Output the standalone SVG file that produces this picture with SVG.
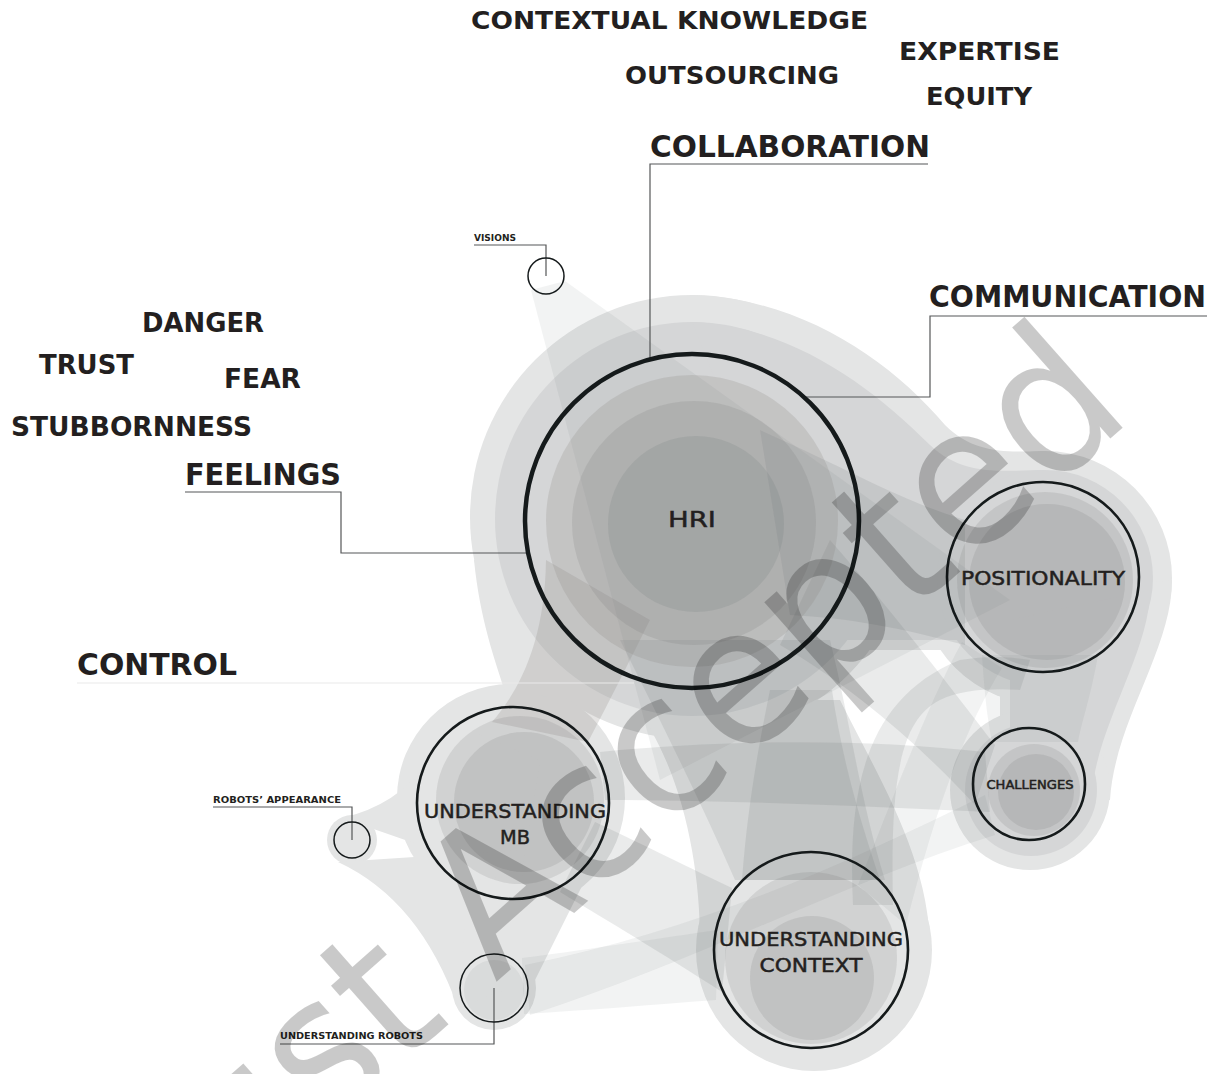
<svg xmlns="http://www.w3.org/2000/svg" width="1221" height="1074" viewBox="0 0 1221 1074">
<style>
.w{font-family:"DejaVu Sans","Liberation Sans",sans-serif;font-weight:bold;fill:#231f20}
.n{font-family:"DejaVu Sans","Liberation Sans",sans-serif;font-weight:normal;fill:#231f20;stroke:#231f20;stroke-width:0.5;text-anchor:middle}
.s{font-family:"DejaVu Sans","Liberation Sans",sans-serif;font-weight:bold;fill:#231f20;font-size:8px}
.e1{fill:#e4e5e5}
.e2{fill:#d5d6d7}
.b{fill:#5f6264;fill-opacity:0.13}
.bl{fill:#5f6264;fill-opacity:0.08}
.wr{fill:#8a8580;fill-opacity:0.22}
.d{fill:#6f7072;fill-opacity:0.16}
.node{fill:none;stroke:#151a1b;stroke-width:2.6}
.lead{fill:none;stroke:#555758;stroke-width:1.2}
.wm{font-family:"DejaVu Sans","Liberation Sans",sans-serif;fill:#000;fill-opacity:0.21}
</style>
<rect width="1221" height="1074" fill="#fff"/>

<g id="blobs">
  <circle class="e1" cx="692" cy="517" r="222"/>
  <path class="e1" d="M692,295 C800,298 890,360 945,425 C975,455 1010,452 1045,451 L1045,650 L800,650 Z"/>
  <circle class="e1" cx="1045" cy="578" r="127"/>
  <path class="e1" d="M1172,580 C1172,650 1115,720 1110,800 L1000,800 L1000,600 Z"/>
  <circle class="e1" cx="1030" cy="790" r="80"/>
  <circle class="e1" cx="511" cy="798" r="114"/>
  <circle class="e1" cx="352" cy="840" r="25"/>
  <circle class="e1" cx="494" cy="988" r="42"/>
  <path class="e1" d="M474,560 C480,620 495,660 505,692 L580,700 L580,560 Z"/>
  <path class="e1" d="M342,818 Q420,800 448,722 L540,760 L520,880 Z"/>
  <path class="e1" d="M338,862 Q420,900 458,1008 L530,980 L520,850 Z"/>
  <path class="e1" d="M458,990 L470,880 L590,870 L530,990 Z"/>
  <ellipse class="e1" cx="814" cy="950" rx="118" ry="121"/>
  <path class="e1" d="M700,940 C700,860 680,760 630,700 L840,700 C880,780 930,860 930,950 Z"/>
  <circle class="e2" cx="692" cy="519" r="197"/>
  <path class="e2" d="M692,322 C790,326 870,385 930,445 C965,478 1005,470 1045,470 L1045,640 L820,640 Z"/>
  <circle class="e2" cx="1045" cy="578" r="108"/>
  <path class="e2" d="M1150,590 C1150,650 1100,720 1092,790 L1010,790 L1010,620 Z"/>
  <circle class="e2" cx="1031" cy="790" r="66"/>
  <path class="bl" d="M531,290 L565,281 L1010,600 L660,780 Z"/>
  <path class="b" d="M760,430 C850,470 900,500 965,520 L965,645 C900,628 850,618 790,615 Z"/>
  <path class="b" d="M830,540 C900,620 960,700 995,745 L975,805 C920,745 850,685 780,645 Z"/>
  <path class="b" d="M600,752 C720,740 860,738 985,752 L990,812 C860,806 720,800 605,800 Z"/>
  <path class="b" d="M595,822 C650,848 690,868 732,888 L722,992 C660,952 610,922 560,892 Z"/>
  <path class="bl" d="M522,958 C600,948 660,938 718,930 L716,1000 C650,1005 590,1010 524,1014 Z"/>
  <path class="bl" d="M525,965 C700,930 850,862 985,795 L995,835 C850,880 700,960 530,1015 Z"/>
  <path class="bl" d="M858,885 C900,780 930,700 962,642 L1002,668 C962,732 932,822 906,925 Z"/>
  <path class="b" d="M853,905 C848,800 860,700 960,660 C990,655 1010,657 1030,660 L1020,690 C990,688 960,690 940,700 C900,720 890,780 893,905 Z"/>
  <path class="bl" d="M982,655 L1098,655 C1090,700 1082,720 1078,742 L992,742 C986,712 984,684 982,655 Z"/>
  <path class="b" d="M620,640 C660,720 700,800 735,880 L885,880 C860,800 850,720 830,640 Z"/>
  <path class="b" d="M742,880 C748,800 760,740 770,690 L832,690 C842,760 860,820 880,880 Z"/>
  <path class="wr" d="M546,560 C545,640 520,690 492,722 L588,742 C610,700 630,660 650,620 Z"/>
  <circle class="wr" cx="692" cy="521" r="146"/>
  <circle class="d" cx="694" cy="523" r="122"/>
  <circle fill="#5d676d" fill-opacity="0.14" cx="696" cy="524" r="88"/>
  <circle class="d" cx="1045" cy="580" r="88"/>
  <circle class="d" cx="1047" cy="582" r="78"/>
  <circle class="d" cx="1034" cy="790" r="46"/>
  <circle class="d" cx="1036" cy="792" r="38"/>
  <circle class="d" cx="520" cy="800" r="84"/>
  <circle class="d" cx="524" cy="802" r="70"/>
  <circle class="d" cx="811" cy="958" r="86"/>
  <circle class="d" cx="812" cy="978" r="62"/>
  <circle class="bl" cx="494" cy="990" r="30"/>
</g>

<g id="connectors">
  <polyline class="lead" points="928,164 650,164 650,360"/>
  <polyline class="lead" points="1207,316 930,316 930,397 806,397"/>
  <polyline class="lead" points="185,492 341,492 341,553 527,553"/>
  <line x1="77" y1="683" x2="634" y2="683" stroke="#e9e9e9" stroke-width="1.2"/>
  <polyline class="lead" points="474,245 546,245 546,276"/>
  <polyline class="lead" points="213,807 352,807 352,840"/>
  <polyline class="lead" points="280,1044 494,1044 494,988"/>
</g>

<g id="node-hri"><circle cx="692" cy="521" r="167" fill="none" stroke="#151a1b" stroke-width="4.5"/><text class="n" x="692" y="527" font-size="22" textLength="48" lengthAdjust="spacingAndGlyphs">HRI</text></g>
<g id="node-positionality"><ellipse class="node" cx="1043" cy="577" rx="96" ry="95"/><text class="n" x="1043" y="585" font-size="20" textLength="164" lengthAdjust="spacingAndGlyphs">POSITIONALITY</text></g>
<g id="node-challenges"><circle class="node" cx="1029" cy="784" r="56"/><text class="n" x="1030" y="789" font-size="12" textLength="87" lengthAdjust="spacingAndGlyphs">CHALLENGES</text></g>
<g id="node-mb"><ellipse class="node" cx="513" cy="803" rx="96" ry="96"/><text class="n" x="515" y="818" font-size="20" textLength="182" lengthAdjust="spacingAndGlyphs">UNDERSTANDING</text><text class="n" x="515" y="844" font-size="20" textLength="30" lengthAdjust="spacingAndGlyphs">MB</text></g>
<g id="node-context"><ellipse class="node" cx="811" cy="950" rx="97" ry="98"/><text class="n" x="811" y="946" font-size="20" textLength="184" lengthAdjust="spacingAndGlyphs">UNDERSTANDING</text><text class="n" x="811" y="972" font-size="20" textLength="103" lengthAdjust="spacingAndGlyphs">CONTEXT</text></g>
<g id="node-visions"><circle cx="546" cy="276" r="18" fill="none" stroke="#151a1b" stroke-width="1.5"/><text class="s" x="474" y="241" textLength="42" lengthAdjust="spacingAndGlyphs">VISIONS</text></g>
<g id="node-appearance"><circle cx="352" cy="840" r="18" fill="none" stroke="#151a1b" stroke-width="1.5"/><text class="s" x="213" y="803" textLength="128" lengthAdjust="spacingAndGlyphs">ROBOTS’ APPEARANCE</text></g>
<g id="node-robots"><circle cx="494" cy="988" r="34" fill="none" stroke="#151a1b" stroke-width="1.5"/><text class="s" x="280" y="1039" textLength="143" lengthAdjust="spacingAndGlyphs">UNDERSTANDING ROBOTS</text></g>

<g id="node-collaboration"><text class="w" x="650" y="157" font-size="31" textLength="280" lengthAdjust="spacingAndGlyphs">COLLABORATION</text></g>
<g id="node-communication"><text class="w" x="929" y="307" font-size="31" textLength="277" lengthAdjust="spacingAndGlyphs">COMMUNICATION</text></g>
<g id="node-feelings"><text class="w" x="185" y="485" font-size="31" textLength="156" lengthAdjust="spacingAndGlyphs">FEELINGS</text></g>
<g id="node-control"><text class="w" x="77" y="675" font-size="30" textLength="160" lengthAdjust="spacingAndGlyphs">CONTROL</text></g>
<g id="words">
  <text class="w" x="471" y="29" font-size="24" textLength="397" lengthAdjust="spacingAndGlyphs">CONTEXTUAL KNOWLEDGE</text>
  <text class="w" x="899" y="60" font-size="25" textLength="161" lengthAdjust="spacingAndGlyphs">EXPERTISE</text>
  <text class="w" x="625" y="84" font-size="25" textLength="214" lengthAdjust="spacingAndGlyphs">OUTSOURCING</text>
  <text class="w" x="926" y="105" font-size="25" textLength="106" lengthAdjust="spacingAndGlyphs">EQUITY</text>
  <text class="w" x="142" y="332" font-size="27" textLength="122" lengthAdjust="spacingAndGlyphs">DANGER</text>
  <text class="w" x="39" y="374" font-size="27" textLength="95" lengthAdjust="spacingAndGlyphs">TRUST</text>
  <text class="w" x="224" y="388" font-size="27" textLength="77" lengthAdjust="spacingAndGlyphs">FEAR</text>
  <text class="w" x="11" y="436" font-size="27" textLength="241" lengthAdjust="spacingAndGlyphs">STUBBORNNESS</text>
</g>

<text class="wm" transform="translate(199,1245) rotate(-41.5)" font-size="195" textLength="1250" lengthAdjust="spacingAndGlyphs">Just Accepted</text>
</svg>
